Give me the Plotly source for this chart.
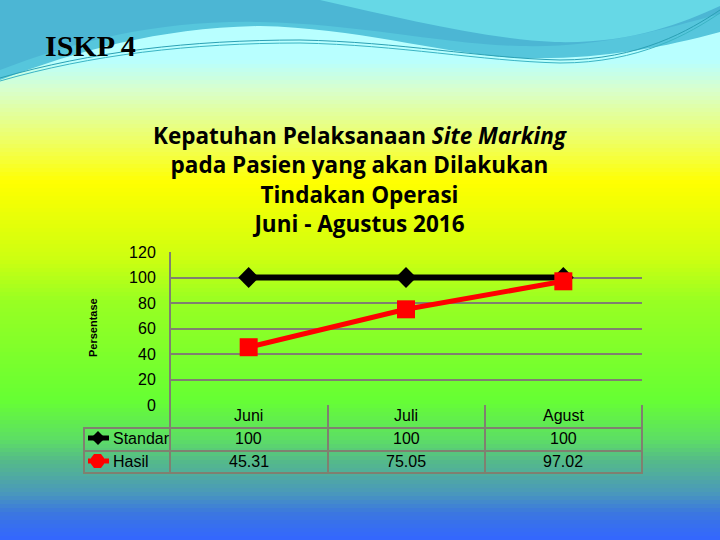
import plotly.graph_objects as go

# ---------------- data ----------------
categories = ["Juni", "Juli", "Agust"]
series_names = ["Standar", "Hasil"]
standar = [100, 100, 100]
hasil = [45.31, 75.05, 97.02]
standar_labels = ["100", "100", "100"]
hasil_labels = ["45.31", "75.05", "97.02"]
y_ticks = [0, 20, 40, 60, 80, 100, 120]

W, H = 720, 540


def px(x):
    return x / W


def py(y):
    return 1 - y / H


def hex2rgb(h):
    h = h.lstrip("#")
    return tuple(int(h[i:i + 2], 16) for i in (0, 2, 4))


def mix(c1, c2, t):
    a, b = hex2rgb(c1), hex2rgb(c2)
    return "rgb(%d,%d,%d)" % tuple(round(a[i] + (b[i] - a[i]) * t) for i in range(3))


def path(cmds):
    out = []
    for c in cmds:
        if isinstance(c, str):
            out.append(c)
        else:
            out.append("%.5f,%.5f" % (px(c[0]), py(c[1])))
    return " ".join(out)


shapes = []

# background vertical gradient (decoration)
stops = [(0, "#b8ffff"), (60, "#b8ffff"), (90, "#d8ffcc"), (140, "#eeff66"),
         (183, "#ffff00"), (260, "#ccff11"), (300, "#99ff22"), (400, "#66ff33"),
         (440, "#5ddd66"), (460, "#55bb88"), (493, "#4a99bb"), (513, "#3b77e0"),
         (540, "#3366ff")]
step = 4
for y0 in range(0, H, step):
    ym = y0 + step / 2
    for (a, ca), (b, cb) in zip(stops[:-1], stops[1:]):
        if a <= ym <= b:
            col = mix(ca, cb, (ym - a) / (b - a) if b > a else 0)
            break
    shapes.append(dict(type="rect", xref="paper", yref="paper", layer="below",
                       x0=0, x1=1, y0=max(0, py(y0 + step + 0.5)), y1=py(y0),
                       fillcolor=col, line=dict(width=0)))

# header waves (decoration)
shapes.append(dict(type="path", xref="paper", yref="paper", layer="below",
                   path=path(["M", (0, 80), "C", (80, 50), (160, 28), (260, 26),
                              "C", (360, 28), (440, 54), (520, 58),
                              "C", (600, 60), (660, 48), (720, 32),
                              "L", (720, 0), "L", (0, 0), "Z"]),
                   fillcolor="#56c6dc", line=dict(width=0)))
shapes.append(dict(type="path", xref="paper", yref="paper", layer="below",
                   path=path(["M", (0, 70), "C", (80, 40), (160, 20), (260, 22),
                              "C", (360, 24), (440, 44), (520, 46),
                              "C", (600, 48), (660, 30), (720, 14),
                              "L", (720, 0), "L", (0, 0), "Z"]),
                   fillcolor="#4cb6d4", line=dict(width=0)))
shapes.append(dict(type="path", xref="paper", yref="paper", layer="below",
                   path=path(["M", (320, 0), "C", (400, 18), (480, 38), (555, 42),
                              "C", (630, 44), (680, 24), (720, 6),
                              "L", (720, 0), "Z"]),
                   fillcolor="#66d8e6", line=dict(width=0)))
for dy, colr in ((0, "#2aa0b4"), (3, "#3ab4c4")):
    shapes.append(dict(type="path", xref="paper", yref="paper", layer="below",
                       path=path(["M", (0, 78 + dy), "C", (90, 52 + dy), (190, 40 + dy), (300, 40 + dy),
                                  "C", (400, 42 + dy), (480, 58 + dy), (560, 60 + dy),
                                  "C", (640, 60 + dy), (690, 30 + dy), (720, 10 + dy)]),
                       line=dict(color=colr, width=1)))

# table lines
grey = "#808070"
shapes.append(dict(type="line", xref="paper", yref="paper", x0=px(170), x1=px(170),
                   y0=py(252), y1=py(473), line=dict(color=grey, width=2)))
for xx in (328, 485, 642):
    shapes.append(dict(type="line", xref="paper", yref="paper", x0=px(xx), x1=px(xx),
                       y0=py(405), y1=py(473), line=dict(color=grey, width=2)))
shapes.append(dict(type="line", xref="paper", yref="paper", x0=px(84), x1=px(84),
                   y0=py(428), y1=py(473), line=dict(color=grey, width=2)))
for yy in (428, 451, 473):
    shapes.append(dict(type="line", xref="paper", yref="paper", x0=px(83), x1=px(643),
                       y0=py(yy), y1=py(yy), line=dict(color=grey, width=2)))

# legend keys
shapes.append(dict(type="line", xref="paper", yref="paper", x0=px(88), x1=px(109),
                   y0=py(438), y1=py(438), line=dict(color="black", width=5)))
shapes.append(dict(type="path", xref="paper", yref="paper",
                   path=path(["M", (98, 431), "L", (105, 438), "L", (98, 445), "L", (91, 438), "Z"]),
                   fillcolor="black", line=dict(width=0)))
shapes.append(dict(type="line", xref="paper", yref="paper", x0=px(88), x1=px(109),
                   y0=py(461), y1=py(461), line=dict(color="red", width=5)))
shapes.append(dict(type="path", xref="paper", yref="paper",
                   path=path(["M", (94, 454), "L", (101, 454), "L", (104, 458), "L", (104, 464),
                              "L", (101, 468), "L", (94, 468), "L", (91, 464), "L", (91, 458), "Z"]),
                   fillcolor="red", line=dict(width=0)))

fig = go.Figure()
fig.add_trace(go.Scatter(x=categories, y=standar, name=series_names[0], mode="lines+markers",
                         line=dict(color="black", width=6),
                         marker=dict(symbol="diamond", size=16, color="black"),
                         cliponaxis=False, showlegend=False))
fig.add_trace(go.Scatter(x=categories, y=hasil, name=series_names[1], mode="lines+markers",
                         line=dict(color="#ff0000", width=5),
                         marker=dict(symbol="square", size=18, color="#ff0000"),
                         cliponaxis=False, showlegend=False))

tfont = dict(family="Liberation Sans, Arial", size=16, color="black")
ann = []
ann.append(dict(text="<b>ISKP 4</b>", x=px(43), y=py(46), xref="paper", yref="paper",
                xanchor="left", yanchor="middle", showarrow=False,
                font=dict(family="Liberation Serif, Times New Roman", size=30, color="black")))
title_text = ("<b>Kepatuhan Pelaksanaan <i>Site Marking</i><br>"
              "pada Pasien yang akan Dilakukan<br>"
              "Tindakan Operasi<br>"
              "Juni - Agustus 2016</b>")
ann.append(dict(text=title_text, x=px(360), y=py(179), xref="paper", yref="paper",
                xanchor="center", yanchor="middle", showarrow=False, align="center",
                font=dict(family="Open Sans, Lato", size=22.5, color="black")))
ann.append(dict(text="<b>Persentase</b>", x=px(93), y=py(328), xref="paper", yref="paper",
                textangle=-90, showarrow=False, xanchor="center", yanchor="middle",
                font=dict(family="Liberation Sans, Arial", size=11, color="black")))
for i, c in enumerate(categories):
    ann.append(dict(text=c, x=c, y=py(415), xref="x", yref="paper", showarrow=False,
                    xanchor="center", yanchor="middle", font=tfont))
    ann.append(dict(text=standar_labels[i], x=c, y=py(438), xref="x", yref="paper", showarrow=False,
                    xanchor="center", yanchor="middle", font=tfont))
    ann.append(dict(text=hasil_labels[i], x=c, y=py(461), xref="x", yref="paper", showarrow=False,
                    xanchor="center", yanchor="middle", font=tfont))
ann.append(dict(text=series_names[0], x=px(111), y=py(438), xref="paper", yref="paper",
                showarrow=False, xanchor="left", yanchor="middle", font=tfont))
ann.append(dict(text=series_names[1], x=px(111), y=py(461), xref="paper", yref="paper",
                showarrow=False, xanchor="left", yanchor="middle", font=tfont))

fig.update_layout(
    width=W, height=H, margin=dict(l=0, r=0, t=0, b=0, pad=0),
    paper_bgcolor="#4cb6d4", plot_bgcolor="rgba(0,0,0,0)",
    shapes=shapes, annotations=ann,
    xaxis=dict(domain=[px(170), px(642)], range=[-0.5, 2.5], type="category",
               showticklabels=False, showgrid=False, zeroline=False, showline=False,
               automargin=False),
    yaxis=dict(domain=[py(405), py(252)], range=[0, 120], tickvals=y_ticks,
               showgrid=True, gridcolor=grey, gridwidth=2, zeroline=False, showline=False,
               ticks="outside", ticklen=10, tickcolor="rgba(0,0,0,0)", automargin=False,
               tickfont=dict(family="Liberation Sans, Arial", size=16, color="black")),
    showlegend=False,
)
fig.write_html("out.html", config={"displayModeBar": False},
               post_script="document.body.style.margin='0px';document.body.style.overflow='hidden';")
